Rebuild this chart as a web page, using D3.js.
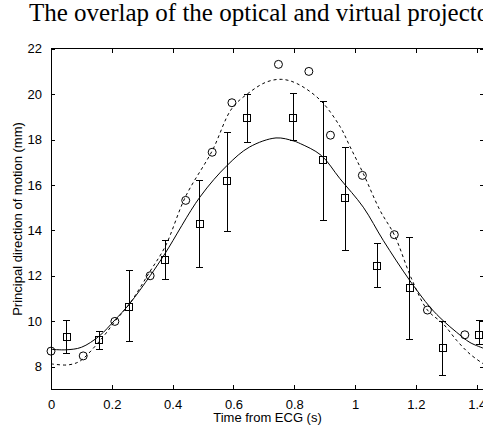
<!DOCTYPE html>
<html><head><meta charset="utf-8">
<script src="https://cdn.jsdelivr.net/npm/d3@7"></script>
<style>body{margin:0;background:#fff;overflow:hidden}svg{display:block}</style>
</head><body>
<svg id="c" width="483" height="428"></svg>
<script>
const xTicks = [0, 0.2, 0.4, 0.6, 0.8, 1, 1.2, 1.4];
const yTicks = [8, 10, 12, 14, 16, 18, 20, 22];

const circleT = [0, 0.106, 0.21, 0.326, 0.443, 0.53, 0.595, 0.748, 0.848, 0.919, 1.024, 1.129, 1.238, 1.361];
const circleV = [8.68, 8.47, 9.99, 12.0, 15.32, 17.44, 19.62, 21.31, 21.0, 18.19, 16.42, 13.81, 10.49, 9.40];

const squareT = [0.052, 0.159, 0.258, 0.376, 0.49, 0.58, 0.645, 0.797, 0.896, 0.968, 1.073, 1.179, 1.288, 1.409];
const squareV = [9.32, 9.15, 10.62, 12.71, 14.29, 16.16, 18.95, 18.95, 17.09, 15.42, 12.42, 11.47, 8.82, 9.40];
const errLow  = [8.59, 8.74, 9.09, 11.82, 12.37, 13.95, 17.89, 17.94, 14.44, 13.11, 11.47, 9.20, 7.62, 8.99];
const errHigh = [10.03, 9.53, 12.21, 13.55, 16.20, 18.32, 19.99, 20.03, 19.66, 17.65, 13.41, 13.67, 9.99, 10.02];

const solidT = [0, 0.05, 0.1, 0.159, 0.21, 0.258, 0.326, 0.376, 0.49, 0.58, 0.653, 0.74, 0.797, 0.82, 0.888, 0.95, 1.027, 1.093, 1.18, 1.247, 1.29, 1.334, 1.378, 1.424];
const solidV = [8.76, 8.74, 8.85, 9.35, 10.05, 10.76, 12.0, 13.0, 15.47, 16.87, 17.67, 18.07, 17.94, 17.82, 17.31, 16.28, 15.02, 13.55, 11.79, 10.61, 10.02, 9.51, 9.06, 8.8];

const dashT = [0, 0.052, 0.085, 0.106, 0.172, 0.21, 0.258, 0.326, 0.376, 0.443, 0.53, 0.595, 0.655, 0.71, 0.759, 0.808, 0.885, 0.951, 0.984, 1.027, 1.082, 1.129, 1.186, 1.238, 1.29, 1.335, 1.378, 1.424];
const dashV = [8.12, 8.07, 8.17, 8.35, 9.32, 9.99, 10.76, 12.2, 13.3, 15.5, 17.5, 19.37, 20.1, 20.54, 20.65, 20.47, 19.74, 18.56, 17.67, 16.5, 14.88, 13.8, 11.86, 10.49, 9.88, 9.14, 8.55, 8.1];

const L = 51, R = 484, T = 48.7, B = 389.3;
const x = d3.scaleLinear().domain([0, 1.424]).range([L, R]);
const y = d3.scaleLinear().domain([7, 22]).range([B, T]);

const svg = d3.select("#c");

svg.append("text").attr("x", 29).attr("y", 21)
  .attr("font-family", "'Liberation Serif','Times New Roman',serif").attr("font-size", 25)
  .text("The overlap of the optical and virtual projectors");

const g = svg.append("g");
const font = "'Liberation Sans',Arial,sans-serif";

// axes with inward ticks
const tl = 4;
g.append("g").attr("transform", `translate(0,${B})`)
  .call(d3.axisBottom(x).tickValues(xTicks).tickSize(-tl).tickPadding(6 + tl).tickFormat(d3.format("~g")))
  .call(a => { a.select(".domain").remove(); a.selectAll("text").attr("font-family", font).attr("font-size", 13).attr("fill","#000"); });
g.append("g").attr("transform", `translate(0,${T})`)
  .call(d3.axisTop(x).tickValues(xTicks).tickSize(-tl).tickFormat(""))
  .call(a => a.select(".domain").remove());
g.append("g").attr("transform", `translate(${L},0)`)
  .call(d3.axisLeft(y).tickValues(yTicks).tickSize(-tl).tickPadding(5 + tl))
  .call(a => { a.select(".domain").remove(); a.selectAll("text").attr("font-family", font).attr("font-size", 13).attr("fill","#000"); });
g.append("g").attr("transform", `translate(${R},0)`)
  .call(d3.axisRight(y).tickValues(yTicks).tickSize(-tl).tickFormat(""))
  .call(a => a.select(".domain").remove());
g.selectAll(".tick line").attr("stroke", "#000").attr("shape-rendering", "crispEdges");

g.append("rect").attr("x", L).attr("y", T).attr("width", R - L).attr("height", B - T)
  .attr("fill", "none").attr("stroke", "#000").attr("shape-rendering", "crispEdges");

// axis labels
svg.append("text").attr("x", (L + R) / 2).attr("y", 422).attr("text-anchor", "middle")
  .attr("font-family", font).attr("font-size", 13).text("Time from ECG (s)");
svg.append("text").attr("transform", `translate(21.5,${(T + B) / 2}) rotate(-90)`).attr("text-anchor", "middle")
  .attr("font-family", font).attr("font-size", 13).text("Principal direction of motion (mm)");

svg.append("defs").append("clipPath").attr("id", "pc")
  .append("rect").attr("x", L).attr("y", T).attr("width", R - L).attr("height", B - T);

const plot = svg.append("g");
const line = d3.line().x(d => x(d[0])).y(d => y(d[1])).curve(d3.curveCatmullRom);

plot.append("path").datum(dashT.map((t, i) => [t, dashV[i]]))
  .attr("d", line).attr("fill", "none").attr("stroke", "#000").attr("stroke-width", 1)
  .attr("stroke-dasharray", "3,3").attr("clip-path", "url(#pc)");
plot.append("path").datum(solidT.map((t, i) => [t, solidV[i]]))
  .attr("d", line).attr("fill", "none").attr("stroke", "#000").attr("stroke-width", 1)
  .attr("clip-path", "url(#pc)");

// error bars
const cap = 3.5;
squareT.forEach((t, i) => {
  const cx = x(t);
  plot.append("line").attr("x1", cx).attr("x2", cx).attr("y1", y(errLow[i])).attr("y2", y(errHigh[i]))
    .attr("stroke", "#000").attr("shape-rendering", "crispEdges");
  [errLow[i], errHigh[i]].forEach(v => {
    plot.append("line").attr("x1", cx - cap).attr("x2", cx + cap).attr("y1", y(v)).attr("y2", y(v))
      .attr("stroke", "#000").attr("shape-rendering", "crispEdges");
  });
  plot.append("rect").attr("x", cx - 3.5).attr("y", y(squareV[i]) - 3.5).attr("width", 7).attr("height", 7)
    .attr("fill", "none").attr("stroke", "#000").attr("shape-rendering", "crispEdges");
});

circleT.forEach((t, i) => {
  plot.append("circle").attr("cx", x(t)).attr("cy", y(circleV[i])).attr("r", 4)
    .attr("fill", "none").attr("stroke", "#000");
});
</script>
</body></html>
